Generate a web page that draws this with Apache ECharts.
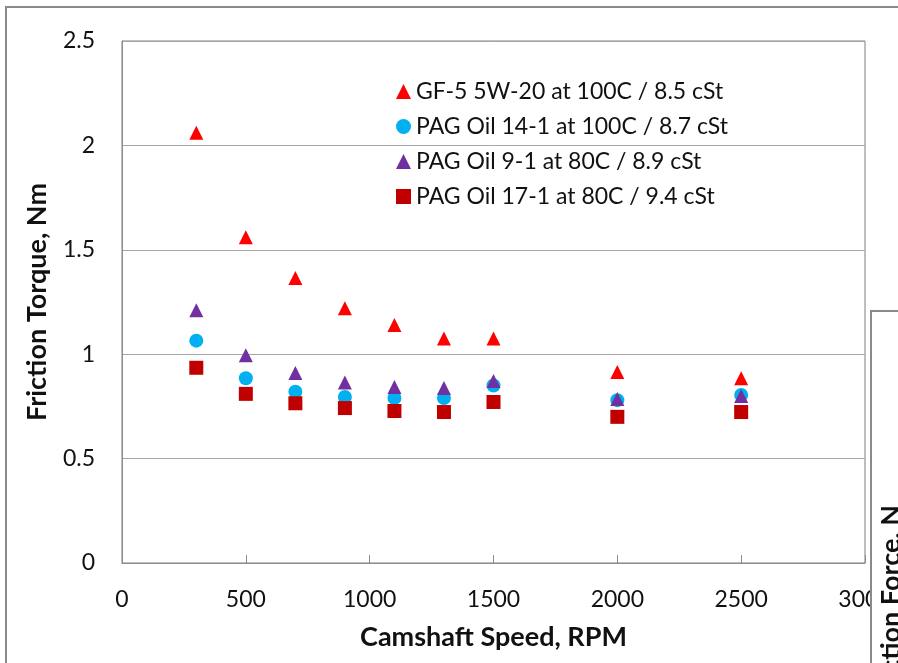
<!DOCTYPE html>
<html>
<head>
<meta charset="utf-8">
<script src="https://cdn.jsdelivr.net/npm/echarts@6/dist/echarts.min.js"></script>
<style>
  html, body { margin: 0; padding: 0; background: #ffffff; }
  #chart { width: 898px; height: 663px; }
</style>
</head>
<body>
<div id="chart"></div>
<script>
// camshaft speeds, RPM
const speeds = [300, 500, 700, 900, 1100, 1300, 1500, 2000, 2500]
// friction torque, Nm
const gf5 = [2.06, 1.56, 1.365, 1.22, 1.14, 1.075, 1.075, 0.915, 0.885]
const pag14 = [1.065, 0.885, 0.82, 0.795, 0.79, 0.79, 0.85, 0.78, 0.805]
const pag9 = [1.21, 0.995, 0.91, 0.865, 0.843, 0.838, 0.872, 0.785, 0.80]
const pag17 = [0.935, 0.81, 0.765, 0.742, 0.728, 0.723, 0.771, 0.70, 0.723]
const seriesNames = [
  'GF-5 5W-20 at 100C / 8.5 cSt',
  'PAG Oil 14-1 at 100C / 8.7 cSt',
  'PAG Oil 9-1 at 80C / 8.9 cSt',
  'PAG Oil 17-1 at 80C / 9.4 cSt'
]

const font = 'Lato, "Open Sans", sans-serif'
const pairs = arr => arr.map((v, i) => [speeds[i], v])

const myChart = echarts.init(document.getElementById('chart'))

// 散点系列
const makeSeries = (name, data, symbol, color) => ({
  name: name,
  type: 'scatter',
  data: pairs(data),
  symbol: symbol,
  symbolSize: 14,
  itemStyle: { color: color, opacity: 1 }
})

const options = {
  animation: false,
  backgroundColor: '#ffffff',
  textStyle: { fontFamily: font },
  grid: {
    left: 122,
    top: 41,
    right: 33,
    bottom: 100,
    show: true,
    borderColor: '#7f7f7f',
    borderWidth: 1
  },
  legend: {
    orient: 'vertical',
    left: 391,
    top: 75,
    itemWidth: 15,
    itemHeight: 15,
    itemGap: 12,
    textStyle: { fontFamily: font, fontSize: 23, color: '#111111' },
    data: [
      { name: seriesNames[0], icon: 'triangle' },
      { name: seriesNames[1], icon: 'circle' },
      { name: seriesNames[2], icon: 'triangle' },
      { name: seriesNames[3], icon: 'rect' }
    ]
  },
  xAxis: {
    type: 'value',
    min: 0,
    max: 3000,
    interval: 500,
    name: 'Camshaft Speed, RPM',
    nameLocation: 'middle',
    nameGap: 61,
    nameTextStyle: { fontFamily: font, fontSize: 27, fontWeight: 'bold', color: '#111111' },
    axisLine: { show: true, lineStyle: { color: '#8c8c8c' } },
    axisTick: { show: true, inside: true, length: 8, lineStyle: { color: '#8c8c8c' } },
    axisLabel: { fontFamily: font, fontSize: 23, color: '#111111', margin: 25, formatter: v => String(v) },
    splitLine: { show: false }
  },
  yAxis: {
    type: 'value',
    min: 0,
    max: 2.5,
    interval: 0.5,
    name: 'Friction Torque, Nm',
    nameLocation: 'middle',
    nameGap: 71,
    nameTextStyle: { fontFamily: font, fontSize: 27, fontWeight: 'bold', color: '#111111' },
    axisLine: { show: true, lineStyle: { color: '#8c8c8c' } },
    axisTick: { show: false },
    axisLabel: { fontFamily: font, fontSize: 23, color: '#111111', margin: 27 },
    splitLine: { show: true, lineStyle: { color: '#a6a6a6', width: 1 } }
  },
  series: [
    makeSeries(seriesNames[0], gf5, 'triangle', '#ff0000'),
    makeSeries(seriesNames[1], pag14, 'circle', '#00b0f0'),
    makeSeries(seriesNames[2], pag9, 'triangle', '#7030a0'),
    makeSeries(seriesNames[3], pag17, 'rect', '#c00000')
  ],
  // 外框 + 右侧被遮挡的第二张图
  graphic: [
    {
      type: 'rect',
      z: -10,
      shape: { x: 6, y: 7, width: 1000, height: 1000 },
      style: { fill: 'none', stroke: '#8a8a8a', lineWidth: 2 }
    },
    {
      type: 'rect',
      z: 100,
      shape: { x: 871, y: 311, width: 100, height: 400 },
      style: { fill: '#ffffff', stroke: '#8a8a8a', lineWidth: 2 }
    },
    {
      type: 'text',
      z: 101,
      x: 891,
      y: 505,
      rotation: Math.PI / 2,
      style: {
        text: 'Friction Force, N',
        fontFamily: font,
        fontSize: 27,
        fontWeight: 'bold',
        fill: '#111111',
        align: 'right',
        verticalAlign: 'middle'
      }
    }
  ]
}

myChart.setOption(options)
</script>
</body>
</html>
